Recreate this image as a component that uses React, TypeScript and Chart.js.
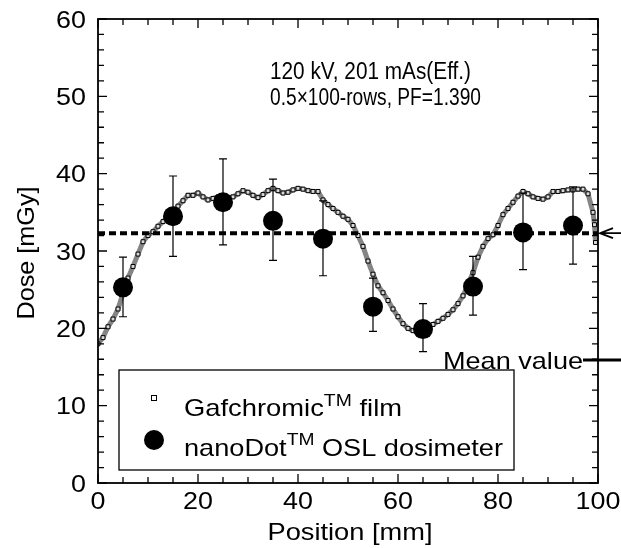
import React, { useEffect, useRef } from "react";
import { Chart, registerables } from "chart.js";
Chart.register(...registerables);

const FONT = "'Liberation Sans', Arial, sans-serif";

// Gafchromic film profile (position mm, dose mGy)
const filmX = [
  0, 1, 2, 3, 4, 5, 6, 7, 8, 9, 10, 11, 12, 13, 14, 15, 16, 17, 18, 19,
  20, 21, 22, 23, 24, 25, 26, 27, 28, 29, 30, 31, 32, 33, 34, 35, 36, 37, 38, 39,
  40, 41, 42, 43, 44, 45, 46, 47, 48, 49, 50, 51, 52, 53, 54, 55, 56, 57, 58, 59,
  60, 61, 62, 63, 64, 65, 66, 67, 68, 69, 70, 71, 72, 73, 74, 75, 76, 77, 78, 79,
  80, 81, 82, 83, 84, 85, 86, 87, 88, 89, 90, 91, 92, 93, 94, 95, 96, 97, 98, 99,
  99.3, 99.5,
];
const filmY = [
  18.0, 18.8, 20.2, 21.2, 22.5, 24.5, 26.5, 28.0, 29.6, 31.2, 32.0, 32.5, 33.2, 33.8, 34.5, 35.1, 35.8, 36.5, 37.2, 37.2,
  37.5, 37.0, 36.6, 36.8, 37.0, 36.8, 36.9, 37.0, 37.4, 37.8, 37.6, 37.2, 36.9, 37.3, 37.8, 38.1, 37.8, 37.5, 37.6, 37.9,
  38.1, 38.0, 37.8, 37.7, 37.7, 36.6, 36.0, 35.5, 35.0, 34.5, 34.1, 33.3, 32.0, 30.6, 28.7, 27.0, 25.5, 24.6, 23.6, 22.5,
  21.5, 20.6, 20.0, 19.7, 19.6, 19.8, 20.1, 20.5, 20.9, 21.3, 21.8, 22.4, 23.2, 24.2, 25.6, 27.2, 29.2, 30.6, 31.6, 32.1,
  33.3, 34.7, 35.5, 36.3, 37.1, 37.7, 37.4, 37.0, 36.8, 36.7, 37.0, 37.7, 37.7, 37.8, 37.9, 37.9, 38.0, 38.0, 37.4, 35.0,
  33.4, 31.1,
];

// nanoDot OSL dosimeter points
const oslX = [5, 15, 25, 35, 45, 55, 65, 75, 85, 95];
const oslY = [25.3, 34.5, 36.3, 33.9, 31.6, 22.8, 19.9, 25.4, 32.4, 33.3];
const oslLow = [21.5, 29.3, 30.8, 28.8, 26.8, 19.6, 17.0, 21.7, 27.6, 28.3];
const oslHigh = [29.2, 39.7, 41.9, 39.3, 36.5, 26.5, 23.2, 29.3, 37.5, 38.3];

const meanValue = 32.3;
const meanLabelValue = 15.9;

const xTicks = [0, 20, 40, 60, 80, 100];
const yTicks = [0, 10, 20, 30, 40, 50, 60];
const xMinorStep = 5;
const yMinorStep = 2;

const xTitle = "Position [mm]";
const yTitle = "Dose [mGy]";
const annotationLines = ["120 kV, 201 mAs(Eff.)", "0.5\u00D7100-rows, PF=1.390"];
const meanLabel = "Mean value";

type Seg = { t: string; sup?: boolean };
const SUP = 17;
const CAP = 0.716;

function segsWidth(ctx: CanvasRenderingContext2D, segs: Seg[], size: number) {
  let w = 0;
  for (const s of segs) {
    ctx.font = `${s.sup ? SUP : size}px ${FONT}`;
    w += ctx.measureText(s.t).width;
  }
  return w;
}

// draws text whose caps are centred on (x, yc), stretched to a given width
function drawText(
  ctx: CanvasRenderingContext2D,
  segs: Seg[],
  x: number,
  yc: number,
  size: number,
  opts: { align?: "left" | "center" | "right"; width?: number; sx?: number; rot?: number }
) {
  const nat = segsWidth(ctx, segs, size);
  const sx = opts.width ? opts.width / nat : opts.sx ?? 1;
  const w = nat * sx;
  const align = opts.align ?? "left";
  ctx.save();
  ctx.translate(x, yc);
  if (opts.rot) ctx.rotate(opts.rot);
  const x0 = align === "left" ? 0 : align === "center" ? -w / 2 : -w;
  ctx.translate(x0, 0);
  ctx.scale(sx, 1);
  ctx.textAlign = "left";
  ctx.textBaseline = "alphabetic";
  let cx = 0;
  for (const s of segs) {
    if (s.sup) {
      ctx.font = `${SUP}px ${FONT}`;
      ctx.fillText(s.t, cx, -8 + (SUP * CAP) / 2);
    } else {
      ctx.font = `${size}px ${FONT}`;
      ctx.fillText(s.t, cx, (size * CAP) / 2);
    }
    cx += ctx.measureText(s.t).width;
  }
  ctx.restore();
}

const decorPlugin = {
  id: "decor",
  afterDatasetsDraw(chart: any) {
    const { ctx, scales } = chart;
    const x = scales.x;
    const y = scales.y;
    ctx.save();
    ctx.strokeStyle = "#000";
    ctx.lineWidth = 1.2;
    for (let i = 0; i < oslX.length; i++) {
      const px = x.getPixelForValue(oslX[i]);
      const lo = y.getPixelForValue(oslLow[i]);
      const hi = y.getPixelForValue(oslHigh[i]);
      ctx.beginPath();
      ctx.moveTo(px, lo);
      ctx.lineTo(px, hi);
      ctx.moveTo(px - 4, lo);
      ctx.lineTo(px + 4, lo);
      ctx.moveTo(px - 4, hi);
      ctx.lineTo(px + 4, hi);
      ctx.stroke();
    }
    ctx.restore();
  },
  afterDraw(chart: any) {
    const { ctx, chartArea: a, scales } = chart;
    const x = scales.x;
    const y = scales.y;
    ctx.save();
    ctx.strokeStyle = "#000";
    ctx.fillStyle = "#000";
    // frame
    ctx.lineWidth = 1.8;
    ctx.strokeRect(a.left, a.top, a.right - a.left, a.bottom - a.top);
    // ticks
    ctx.lineWidth = 1.3;
    ctx.beginPath();
    for (let v = x.min; v <= x.max + 1e-9; v += xMinorStep) {
      const px = x.getPixelForValue(v);
      const len = xTicks.includes(v) ? 9 : 6;
      ctx.moveTo(px, a.bottom);
      ctx.lineTo(px, a.bottom - len);
      ctx.moveTo(px, a.top);
      ctx.lineTo(px, a.top + len);
    }
    for (let v = y.min; v <= y.max + 1e-9; v += yMinorStep) {
      const py = y.getPixelForValue(v);
      const len = yTicks.includes(v) ? 9 : 6;
      ctx.moveTo(a.left, py);
      ctx.lineTo(a.left + len, py);
      ctx.moveTo(a.right, py);
      ctx.lineTo(a.right - len, py);
    }
    ctx.stroke();

    // tick labels
    for (const v of xTicks) {
      drawText(ctx, [{ t: String(v) }], x.getPixelForValue(v), a.bottom + 17, 24, { align: "center", sx: 1.12 });
    }
    for (const v of yTicks) {
      drawText(ctx, [{ t: String(v) }], a.left - 12, y.getPixelForValue(v), 24, { align: "right", sx: 1.12 });
    }
    // axis titles
    drawText(ctx, [{ t: xTitle }], (a.left + a.right) / 2 + 2, 531.5, 24, { align: "center", width: 165 });
    drawText(ctx, [{ t: yTitle }], 25, (a.top + a.bottom) / 2 + 2, 24, { align: "center", width: 133, rot: -Math.PI / 2 });

    // mean arrow at right
    const my = y.getPixelForValue(meanValue);
    ctx.lineWidth = 1.8;
    ctx.beginPath();
    ctx.moveTo(a.right + 2, my);
    ctx.lineTo(621, my);
    ctx.moveTo(a.right + 15, my - 5);
    ctx.lineTo(a.right + 2, my);
    ctx.lineTo(a.right + 15, my + 5);
    ctx.stroke();

    // Mean value label
    const ly = y.getPixelForValue(meanLabelValue);
    const tx = 583;
    drawText(ctx, [{ t: meanLabel }], tx, ly, 24, { align: "right", width: 140 });
    ctx.lineWidth = 3;
    ctx.beginPath();
    ctx.moveTo(tx, ly);
    ctx.lineTo(621, ly);
    ctx.stroke();

    // annotation
    drawText(ctx, [{ t: annotationLines[0] }], 270, 70.7, 23, { width: 201 });
    drawText(ctx, [{ t: annotationLines[1] }], 270, 96.7, 23, { width: 211 });

    // legend box
    ctx.fillStyle = "#fff";
    ctx.fillRect(119, 370, 395, 100);
    ctx.strokeStyle = "#000";
    ctx.lineWidth = 1.3;
    ctx.strokeRect(119, 370, 395, 100);
    ctx.fillStyle = "#000";
    ctx.lineWidth = 1;
    ctx.strokeRect(151.5, 395.5, 5, 5);
    drawText(ctx, [{ t: "Gafchromic" }, { t: "TM", sup: true }, { t: " film" }], 184, 407.5, 24, { width: 218 });
    ctx.beginPath();
    ctx.arc(154, 440, 10, 0, Math.PI * 2);
    ctx.fill();
    drawText(ctx, [{ t: "nanoDot" }, { t: "TM", sup: true }, { t: " OSL dosimeter" }], 184, 447, 24, { width: 319 });
    ctx.restore();
  },
};

export default function App() {
  const ref = useRef<HTMLCanvasElement | null>(null);
  useEffect(() => {
    if (!ref.current) return;
    Chart.defaults.font.family = FONT;
    const chart = new Chart(ref.current, {
      type: "scatter",
      data: {
        datasets: [
          {
            label: "film",
            data: filmX.map((v, i) => ({ x: v, y: filmY[i] })),
            showLine: true,
            borderColor: "#858585",
            borderWidth: 5,
            pointStyle: "rect",
            pointRadius: 2.8,
            pointBorderColor: "#000",
            pointBackgroundColor: "#d8d8d8",
            pointBorderWidth: 1,
            order: 3,
          },
          {
            label: "mean",
            data: [
              { x: 0, y: meanValue },
              { x: 100, y: meanValue },
            ],
            showLine: true,
            borderColor: "#000",
            borderWidth: 4,
            borderDash: [7, 4],
            pointRadius: 0,
            order: 2,
          },
          {
            label: "osl",
            data: oslX.map((v, i) => ({ x: v, y: oslY[i] })),
            pointRadius: 10,
            pointBackgroundColor: "#000",
            pointBorderColor: "#000",
            pointBorderWidth: 0,
            order: 1,
          },
        ],
      },
      options: {
        responsive: false,
        animation: false,
        layout: { padding: { top: 19, right: 23, left: 0, bottom: 0 } },
        plugins: { legend: { display: false }, tooltip: { enabled: false } },
        scales: {
          x: {
            type: "linear",
            min: 0,
            max: 100,
            afterBuildTicks: (s: any) => {
              s.ticks = xTicks.map((v) => ({ value: v }));
            },
            afterFit: (s: any) => {
              s.height = 65;
            },
            grid: { display: false, drawTicks: false },
            border: { display: false },
            ticks: { display: false },
            title: { display: false },
          },
          y: {
            type: "linear",
            min: 0,
            max: 60,
            afterBuildTicks: (s: any) => {
              s.ticks = yTicks.map((v) => ({ value: v }));
            },
            afterFit: (s: any) => {
              s.width = 98;
            },
            grid: { display: false, drawTicks: false },
            border: { display: false },
            ticks: { display: false },
            title: { display: false },
          },
        },
      },
      plugins: [decorPlugin],
    } as any);
    return () => chart.destroy();
  }, []);
  return (
    <div style={{ position: "fixed", left: 0, top: 0, width: 621, height: 548, background: "#fff" }}>
      <canvas ref={ref} width={621} height={548} style={{ width: 621, height: 548 }} />
    </div>
  );
}
